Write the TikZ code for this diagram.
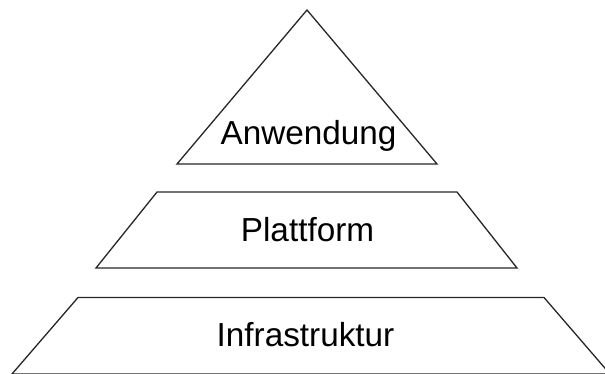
\documentclass[tikz,border=0pt]{standalone}
\usepackage{fontspec}
\setmainfont{Liberation Sans}
\begin{document}
\begin{tikzpicture}[x=1pt, y=-1pt,
    layer/.style={line width=1.3pt, line join=miter, color=black!85},
    layertext/.style={anchor=base, inner sep=0pt, font=\fontsize{33.3}{33.3}\selectfont}]
    \useasboundingbox (0,0) rectangle (605,374);
    \clip (0,0) rectangle (605,374);

    % Spitze
    \draw[layer] (307,10) -- (437,164) -- (177,164) -- cycle;
    \node[layertext] (anwendung) at (308.5,145) {Anwendung};

    % Mitte
    \draw[layer] (157,192) -- (457,192) -- (517,268) -- (96,268) -- cycle;
    \node[layertext] (plattform) at (307.5,241) {Plattform};

    % Basis
    \draw[layer] (78,297.5) -- (544,297.5) -- (610,374) -- (12,374) -- cycle;
    \node[layertext] (infrastruktur) at (305.5,346.5) {Infrastruktur};
\end{tikzpicture}
\end{document}
